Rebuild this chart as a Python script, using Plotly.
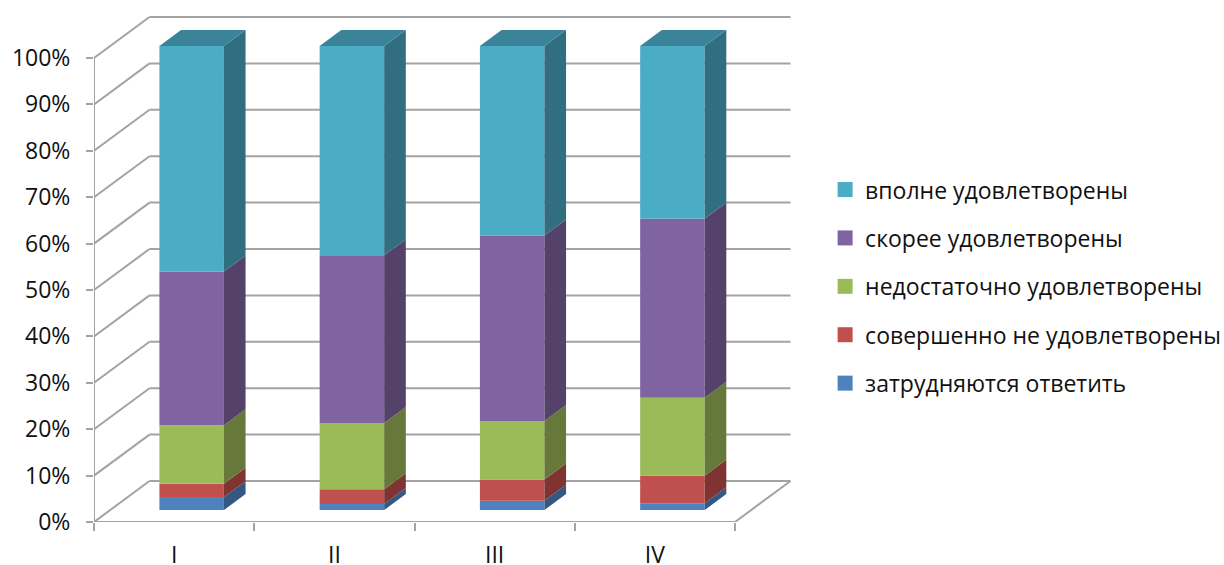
import plotly.graph_objects as go

categories = ["I", "II", "III", "IV"]
series_names = ["затрудняются ответить", "совершенно не удовлетворены",
                "недостаточно удовлетворены", "скорее удовлетворены", "вполне удовлетворены"]
hard_to_say = [2.8, 1.3, 2.0, 1.5]
not_at_all = [2.9, 3.2, 4.6, 5.9]
insufficient = [12.6, 14.3, 12.6, 16.8]
rather = [33.1, 36.1, 40.0, 38.6]
fully = [48.6, 45.1, 40.8, 37.2]
series_values = [hard_to_say, not_at_all, insufficient, rather, fully]
front_colors = ["#4F81BD", "#C0504D", "#9BBB59", "#8064A2", "#4BACC6"]
side_colors = ["#345882", "#7F3432", "#66793A", "#54426B", "#316F80"]
top_color = "#3B8398"
grid_color = "#A3A3A3"
percent_ticks = list(range(0, 101, 10))

FONT = "Open Sans"
W, H = 1224, 565
L, B = 94, 43
PX_PER_CAT = 160.25
PX_PER_PCT = 4.64
DX, DY = 55.5 / PX_PER_CAT, 41 / PX_PER_PCT   # shift of the full floor depth
BAR_W = 0.4025
BAR_SHIFT = 0.009
D_FRONT, D_BACK = 0.29, 0.68


def proj(cat_pos, value, depth):
    return cat_pos + depth * DX, value + depth * DY


fig = go.Figure()

# walls and floor grid, behind everything
shapes = []
line = dict(color=grid_color, width=2)
for p in percent_ticks:
    x0, y0 = proj(0, p, 0)
    x1, y1 = proj(0, p, 1)
    x2, y2 = proj(len(categories), p, 1)
    shapes.append(dict(type="line", x0=x0, y0=y0, x1=x1, y1=y1, line=line, layer="below"))
    shapes.append(dict(type="line", x0=x1, y0=y1, x1=x2, y1=y2, line=line, layer="below"))
fx, fy = proj(len(categories), 0, 0)
bx, by = proj(len(categories), 0, 1)
shapes.append(dict(type="line", x0=fx, y0=fy, x1=bx, y1=by, line=line, layer="below"))
shapes.append(dict(type="line", x0=0, y0=0, x1=0, y1=100, line=line, layer="below"))
shapes.append(dict(type="line", x0=0, y0=0, x1=len(categories), y1=0, line=line, layer="below"))

centers = [i + 0.5 for i in range(len(categories))]
bar_centers = [c + BAR_SHIFT for c in centers]

# stacked boxes
bases = [0.0] * len(categories)
for name, vals, fc, sc in zip(series_names, series_values, front_colors, side_colors):
    fig.add_trace(go.Bar(
        x=[proj(c, 0, D_FRONT)[0] for c in bar_centers],
        y=vals,
        base=[proj(0, b, D_FRONT)[1] for b in bases],
        width=BAR_W,
        marker=dict(color=fc, line=dict(width=0)),
        name=name, showlegend=False,
    ))
    for c, b, v in zip(bar_centers, bases, vals):
        xr = c + BAR_W / 2
        pts = [proj(xr, b, D_FRONT), proj(xr, b, D_BACK),
               proj(xr, b + v, D_BACK), proj(xr, b + v, D_FRONT), proj(xr, b, D_FRONT)]
        fig.add_trace(go.Scatter(
            x=[p[0] for p in pts], y=[p[1] for p in pts], mode="lines", fill="toself",
            fillcolor=sc, line=dict(width=0), hoverinfo="skip", showlegend=False,
        ))
    bases = [b + v for b, v in zip(bases, vals)]

# box lids
for c, t in zip(bar_centers, bases):
    xl, xr = c - BAR_W / 2, c + BAR_W / 2
    pts = [proj(xl, t, D_FRONT), proj(xl, t, D_BACK), proj(xr, t, D_BACK),
           proj(xr, t, D_FRONT), proj(xl, t, D_FRONT)]
    fig.add_trace(go.Scatter(
        x=[p[0] for p in pts], y=[p[1] for p in pts], mode="lines", fill="toself",
        fillcolor=top_color, line=dict(width=0), hoverinfo="skip", showlegend=False,
    ))

# legend keys, top entry first
for name, fc in reversed(list(zip(series_names, front_colors))):
    fig.add_trace(go.Scatter(
        x=[None], y=[None], mode="markers", name=name, legendgroup=name,
        marker=dict(symbol="square", size=15, color=fc),
    ))

fig.update_layout(
    width=W, height=H, autosize=False,
    margin=dict(l=L, r=0, t=0, b=B, pad=0, autoexpand=False),
    paper_bgcolor="white", plot_bgcolor="white",
    font=dict(family=FONT, size=23, color="#111111"),
    barmode="overlay", shapes=shapes,
    showlegend=True,
    legend=dict(x=0.647, y=0.678, xanchor="left", yanchor="top", bgcolor="rgba(0,0,0,0)",
                tracegroupgap=15.5, traceorder="grouped", font=dict(family=FONT, size=23),
                itemclick=False, itemdoubleclick=False),
    xaxis=dict(range=[0, (W - L) / PX_PER_CAT], tickmode="array", tickvals=centers,
               ticktext=categories, ticks="", showgrid=False, zeroline=False,
               showline=False, automargin=False,
               ticklabelstandoff=17, tickfont=dict(family=FONT, size=23),
               minor=dict(tickmode="array", tickvals=list(range(len(categories) + 1)),
                          ticks="outside", ticklen=8, tickwidth=2, tickcolor=grid_color,
                          showgrid=False),
               fixedrange=True),
    yaxis=dict(range=[0, (H - B) / PX_PER_PCT], tickmode="array", tickvals=percent_ticks,
               ticktext=[f"{p}%" for p in percent_ticks], ticks="outside", ticklen=7,
               tickwidth=2, tickcolor=grid_color, showgrid=False, zeroline=False,
               showline=False, automargin=False, ticklabelstandoff=11,
               tickfont=dict(family=FONT, size=23),
               fixedrange=True),
)

fig.write_html("out.html", config=dict(displayModeBar=False),
               post_script="document.body.style.margin='0';document.body.style.overflow='hidden';")
